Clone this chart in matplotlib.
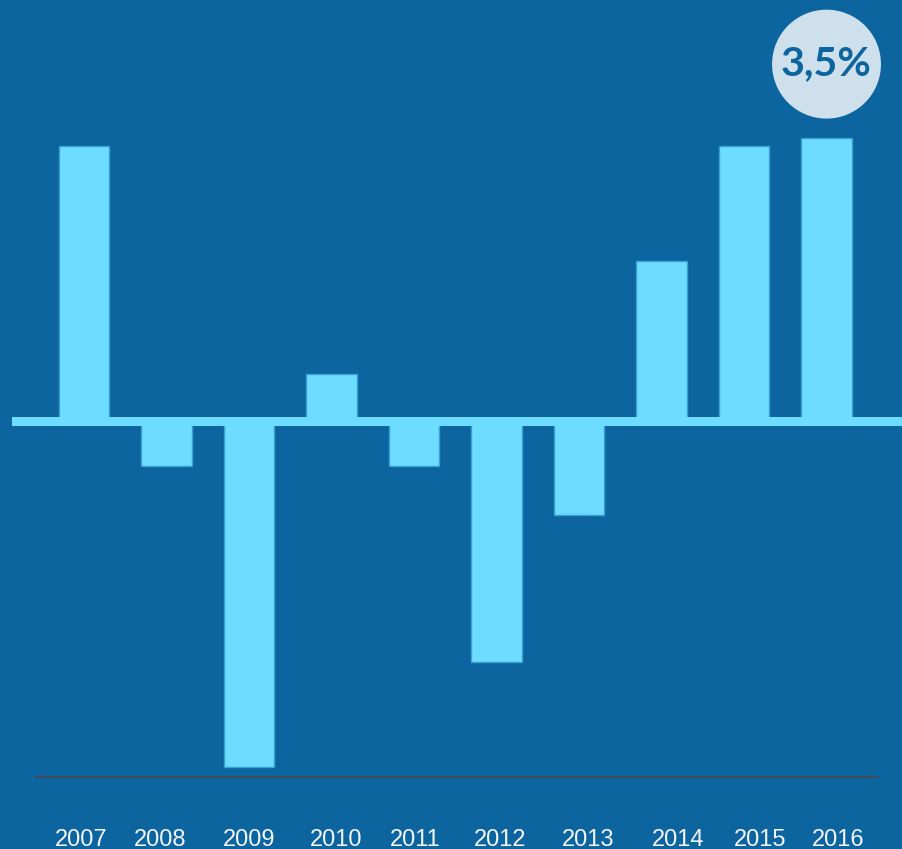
#!/usr/bin/env python3
"""
年度变化柱状图（正负柱 + 右上角圆形标注）
"""

import matplotlib
matplotlib.use('Agg')
import matplotlib.pyplot as plt
import numpy as np

plt.rcParams['font.family'] = ['Liberation Sans', 'DejaVu Sans']

# 数据
years = ['2007', '2008', '2009', '2010', '2011', '2012', '2013', '2014', '2015', '2016']
values = [3.4, -0.55, -4.27, 0.58, -0.55, -2.97, -1.15, 1.98, 3.4, 3.5]
badge_text = '3,5%'

# 年份标签的位置（参考图里标签不完全对齐柱子）
label_pos = [-0.03, 0.92, 2.0, 3.06, 4.01, 5.04, 6.11, 7.2, 8.19, 9.14]

BG = '#0d65a0'
BAR = '#6ddcff'
EDGE = '#3a9fd2'
BADGE = '#cfe0ed'

W, H = 902, 849
fig = plt.figure(figsize=(W / 100, H / 100), dpi=100, facecolor=BG)
ax = fig.add_axes([12 / W, (H - 776.7) / H, 890 / W, 776.7 / H])
ax.set_facecolor(BG)

x = np.arange(len(years))
ax.bar(x, values, width=0.612, color=BAR, edgecolor=EDGE, linewidth=1, zorder=2)

# 零线（粗）
ax.axhline(0, color=BAR, linewidth=6.5, zorder=3)
# 底部细线
ax.axhline(-4.385, xmin=24 / 890, xmax=865 / 890, color='#444a50', linewidth=1.4,
           zorder=1, clip_on=False)

ax.set_xlim(-0.873, 9.915)
ax.set_ylim(-4.385, 5.2)

for s in ax.spines.values():
    s.set_visible(False)
ax.set_yticks([])
ax.set_xticks(label_pos, years)
ax.tick_params(axis='x', length=0, pad=37.5, labelsize=17, labelcolor='#f2f4f6')

# 右上角圆形标注
ax.annotate(badge_text, xy=(x[-1], values[-1]), xytext=(0, 53), textcoords='offset points',
            ha='center', va='center', fontsize=29.5, fontweight='bold', color=BG,
            family=['Lato', 'DejaVu Sans'],
            bbox=dict(boxstyle='circle,pad=0.22', fc=BADGE, ec='none'))

plt.savefig('out.png', dpi=100, facecolor=BG)
plt.close()
